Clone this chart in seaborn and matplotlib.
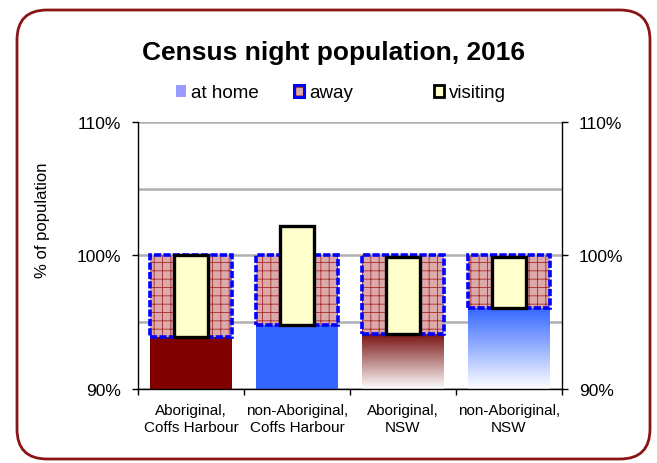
import matplotlib
matplotlib.use('Agg')

import numpy as np
import pandas as pd
import matplotlib.pyplot as plt
import seaborn as sns
from matplotlib.patches import Patch, FancyBboxPatch
from matplotlib.colors import LinearSegmentedColormap
from matplotlib.ticker import FuncFormatter
from matplotlib.legend_handler import HandlerTuple

# Data (percent of population)
categories = ['Aboriginal,\nCoffs Harbour', 'non-Aboriginal,\nCoffs Harbour',
              'Aboriginal,\nNSW', 'non-Aboriginal,\nNSW']
at_home = [93.9, 94.8, 94.1, 96.1]
visiting = [6.1, 7.4, 5.8, 3.8]
away = [100 - h for h in at_home]

home_colors = ['#800000', '#3366ff', '#7a1414', '#3366ff']
gradient_bars = [2, 3]  # these fade to white at the bottom

sns.set_style('white')
plt.rcParams['font.family'] = ['Liberation Sans', 'DejaVu Sans']
plt.rcParams.update({'text.color': 'black', 'axes.labelcolor': 'black',
                     'xtick.color': 'black', 'ytick.color': 'black',
                     'hatch.linewidth': 0.6})

fig = plt.figure(figsize=(6.57, 4.64), dpi=100)
ax = fig.add_axes([138 / 657, 1 - 390 / 464, (562 - 138) / 657, (390 - 123) / 464])

df = pd.DataFrame({'group': categories, 'at_home': at_home})
sns.barplot(data=df, x='group', y='at_home', hue='group', palette=home_colors,
            saturation=1, width=0.77, linewidth=0, legend=False, ax=ax, zorder=2)

# gradient fill for the NSW bars
home_bars = list(ax.patches[:4])
for i in gradient_bars:
    bar = home_bars[i]
    x0, w, h = bar.get_x(), bar.get_width(), bar.get_height()
    cmap = LinearSegmentedColormap.from_list('fade', ['#ffffff', home_colors[i]])
    grad = np.linspace(0, 1, 256).reshape(-1, 1)
    im = ax.imshow(grad, extent=(x0, x0 + w, 90, h), origin='lower', aspect='auto',
                   cmap=cmap, zorder=2)
    im.set_clip_path(bar)
    bar.set_facecolor('none')

xpos = np.arange(len(categories))

# away: hatched fill plus dashed blue outline
away_fc = '#dcaaaa'
away_hatch = '#a52a2a'
ax.bar(xpos, away, bottom=at_home, width=0.77, facecolor=away_fc,
       edgecolor=away_hatch, hatch='++', linewidth=0, zorder=2)
ax.bar(xpos, away, bottom=at_home, width=0.77, fill=False,
       edgecolor='#0000ff', linewidth=2.6, linestyle=(0, (2, 0.6)), zorder=3)

# visiting: narrow bar stacked on top of at home
ax.bar(xpos, visiting, bottom=at_home, width=0.32, facecolor='#ffffcc',
       edgecolor='black', linewidth=2.4, zorder=4)

ax.set_xlim(-0.5, 3.5)
ax.set_ylim(90, 110)
ax.set_xlabel('')
ax.set_ylabel('')

# y axis: labels both sides, gridlines every 5%
ax.set_yticks([90, 100, 110])
ax.set_yticks([95, 105], minor=True)
ax.yaxis.set_major_formatter(FuncFormatter(lambda v, p: f'{v:.0f}%'))
ax.yaxis.set_ticks_position('both')
ax.tick_params(axis='y', which='major', direction='out', length=4, width=1,
               labelsize=12.5, pad=8, labelleft=True, labelright=True, left=True, right=True)
ax.tick_params(axis='y', which='minor', length=0)
ax.grid(axis='y', which='both', color='#b0b0b0', linewidth=1.8)
ax.set_axisbelow(True)

# x axis: ticks between categories, labels at centres
ax.set_xticks([-0.5, 0.5, 1.5, 2.5, 3.5])
ax.set_xticklabels([])
ax.set_xticks(xpos, categories, minor=True)
ax.tick_params(axis='x', which='major', direction='out', length=4, width=1, bottom=True)
ax.tick_params(axis='x', which='minor', length=0, labelsize=11, pad=10)
for t in ax.get_xticklabels(minor=True):
    t.set_linespacing(1.3)

for side in ['left', 'right', 'bottom']:
    ax.spines[side].set_visible(True)
    ax.spines[side].set_color('black')
    ax.spines[side].set_linewidth(1)
ax.spines['top'].set_visible(False)

# title and axis label
fig.text(334 / 657, 1 - 60 / 464, 'Census night population, 2016', ha='center',
         va='baseline', fontsize=19, fontweight='bold')
fig.text(43 / 657, 1 - 220 / 464, '% of population', rotation=90, ha='center',
         va='center', fontsize=12)

# legend, spread out like the original
away_handle = (Patch(facecolor=away_fc, edgecolor=away_hatch, hatch='++', linewidth=0),
               Patch(facecolor='none', edgecolor='#0000ff', linewidth=2.2))
entries = [
    (Patch(facecolor='#9999ff', edgecolor='none'), 'at home', 176),
    (away_handle, 'away', 294),
    (Patch(facecolor='#ffffcc', edgecolor='black', linewidth=2), 'visiting', 434),
]
for h, lab, xpx in entries:
    fig.legend([h], [lab], loc='center left', bbox_to_anchor=(xpx / 657, 1 - 94 / 464),
               frameon=False, fontsize=13.5, handlelength=0.55, handleheight=0.55,
               handletextpad=0.25, borderpad=0, borderaxespad=0,
               handler_map={tuple: HandlerTuple(ndivide=1)})

# rounded chart border
border = FancyBboxPatch((0.17, 0.04), 6.33, 4.49, boxstyle='round,pad=0,rounding_size=0.3',
                        transform=fig.dpi_scale_trans, facecolor='none',
                        edgecolor='#8b1414', linewidth=2)
fig.patches.append(border)

fig.savefig('out.png', dpi=100)
